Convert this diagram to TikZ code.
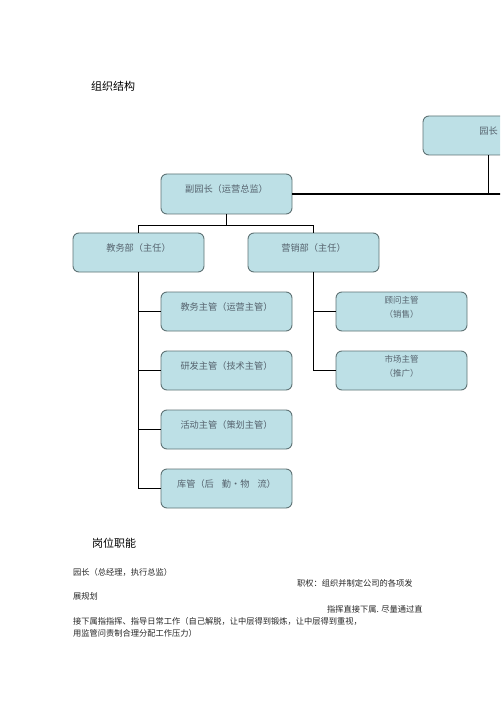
\documentclass[tikz,border=0pt]{standalone}
\usepackage{fontspec}
\newfontfamily\cjk{Noto Sans CJK SC}
\definecolor{boxfill}{HTML}{BDE0E6}
\definecolor{boxline}{HTML}{5F7375}
\definecolor{boxtext}{HTML}{56636E}
\tikzset{
  orgbox/.style={draw=boxline, fill=boxfill, line width=0.9pt, rounded corners=6pt,
    minimum width=131pt, inner xsep=0pt, inner ysep=0pt,
    text height=18.4pt, text depth=20.6pt, text=boxtext,
    font=\cjk\fontsize{9.2}{11}\selectfont},
  orgbox2/.style={orgbox, text height=11.5pt, text depth=27.5pt,
    font=\cjk\fontsize{8.5}{14}\selectfont},
  conn/.style={line width=1.8pt, black},
  heading/.style={anchor=west, inner sep=0pt, font=\cjk\fontsize{11}{13}\selectfont},
  bodytext/.style={anchor=west, inner sep=0pt, font=\cjk\fontsize{8.25}{10}\selectfont, text=black!85}
}
\begin{document}
\begin{tikzpicture}[x=1pt,y=-1pt]
\useasboundingbox (0,0) rectangle (500,708);
\clip (0,0) rectangle (500,708);
\fill[white] (0,0) rectangle (500,708);

\node[heading] (t1) at (91,86) {组织结构};

\node[orgbox] (yz) at (488.5,135.5) {园长};
\node[orgbox, minimum height=40pt, text depth=21.6pt] (fyz) at (226.5,194) {副园长（运营总监）\hspace{20pt}};
\node[orgbox] (jwb) at (138.5,252.5) {教务部（主任）\hspace{18pt}};
\node[orgbox] (yxb) at (313.5,252.5) {营销部（主任）\hspace{16pt}};
\node[orgbox] (jw1) at (226.5,311.5) {教务主管（运营主管）\hspace{20pt}};
\node[orgbox] (yf) at (226.5,370.5) {研发主管（技术主管）\hspace{20pt}};
\node[orgbox] (hd) at (226.5,429.5) {活动主管（策划主管）\hspace{20pt}};
\node[orgbox] (kg) at (226.5,488.5) {库管（后\hspace{8pt}勤·物\hspace{8pt}流）\hspace{10pt}};
\node[orgbox2] (gw) at (401.5,311.5) {\begin{tabular}[t]{@{}c@{}}顾问主管\\（销售）\end{tabular}};
\node[orgbox2] (sc) at (401.5,370.5) {\begin{tabular}[t]{@{}c@{}}市场主管\\（推广）\end{tabular}};

\coordinate (rend) at (515,194);
\coordinate (j1) at (226.5,225.5);
\draw[conn] (yz.south) -- (yz.south |- rend);
\draw[conn] (fyz.east) -- (rend);
\draw[conn] (fyz.south) -- (j1);
\draw[conn] (jwb.north) |- (j1) -| (yxb.north);

\draw[conn] (jwb.south) |- (kg.west);
\draw[conn] (jwb.south |- jw1.west) -- (jw1.west);
\draw[conn] (jwb.south |- yf.west) -- (yf.west);
\draw[conn] (jwb.south |- hd.west) -- (hd.west);

\draw[conn] (yxb.south) |- (sc.west);
\draw[conn] (yxb.south |- gw.west) -- (gw.west);

\node[heading] (t2) at (92,543) {岗位职能};
\node[bodytext] (b1) at (73,572) {园长（总经理，执行总监）};
\node[bodytext] (b2) at (297,583) {职权：组织并制定公司的各项发};
\node[bodytext] (b3) at (73,596) {展规划};
\node[bodytext] (b4) at (327,609) {指挥直接下属. 尽量通过直};
\node[bodytext] (b5) at (73,621) {接下属指指挥、指导日常工作（自己解脱，让中层得到锻炼，让中层得到重视，};
\node[bodytext] (b6) at (73,633) {用监管问责制合理分配工作压力）};
\end{tikzpicture}
\end{document}
